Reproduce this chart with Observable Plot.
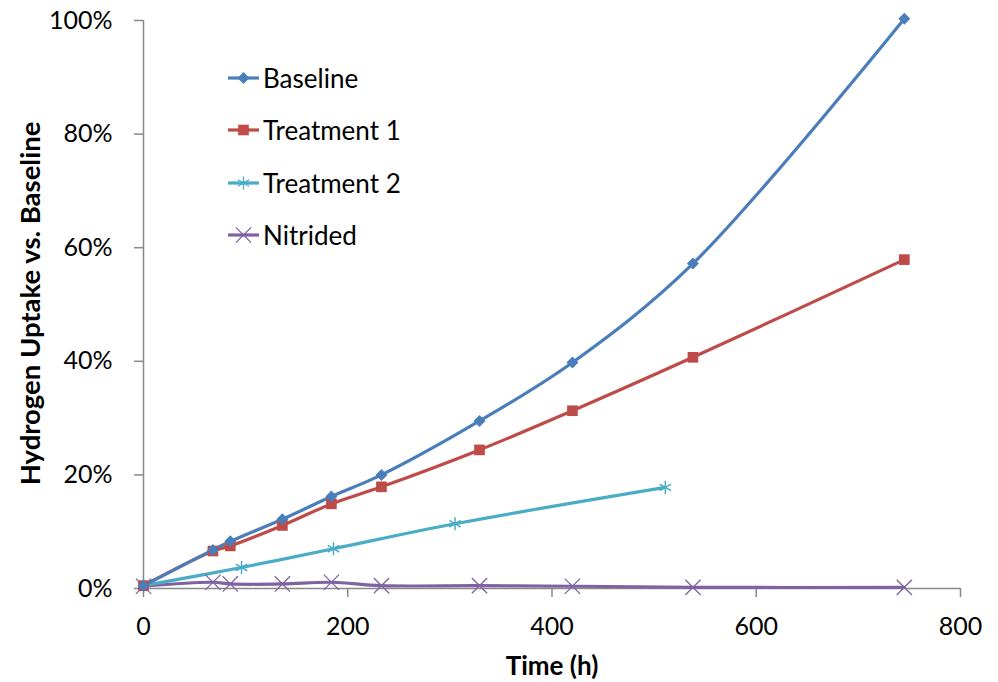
<!DOCTYPE html>
<html>
<head>
<meta charset="utf-8">
<script src="https://cdn.jsdelivr.net/npm/d3@7"></script>
<script src="https://cdn.jsdelivr.net/npm/@observablehq/plot@0.6"></script>
<style>
  html, body { margin: 0; padding: 0; background: #fff; }
  #wrap { position: relative; width: 998px; height: 682px; }
  .leg { position: absolute; display: flex; align-items: center; font-family: Lato, sans-serif; font-size: 26px; color: #000; white-space: nowrap; }
  .leg svg { display: block; margin-right: 4px; }
</style>
</head>
<body>
<div id="wrap"></div>
<script>
// ---- data ----
const seriesNames = ["Baseline", "Treatment 1", "Treatment 2", "Nitrided"];
const seriesColors = ["#4a7ebb", "#be4b48", "#4bacc6", "#7f62a1"];
const hours = [0, 68, 85, 136, 184, 233, 329, 420, 538, 745];
const baseline = [0.005, 0.068, 0.083, 0.122, 0.162, 0.200, 0.295, 0.398, 0.572, 1.003];
const treatment1 = [0.005, 0.066, 0.075, 0.111, 0.149, 0.179, 0.244, 0.313, 0.407, 0.579];
const t2Hours = [0, 96, 186, 305, 511];
const treatment2 = [0.005, 0.037, 0.070, 0.114, 0.178];
const nitrided = [0.004, 0.011, 0.008, 0.008, 0.011, 0.005, 0.005, 0.004, 0.002, 0.002];
const xTicks = [0, 200, 400, 600, 800];
const yTicks = [0, 0.2, 0.4, 0.6, 0.8, 1.0];
const xTitle = "Time (h)";
const yTitle = "Hydrogen Uptake vs. Baseline";

// ---- build rows ----
const rows = [];
hours.forEach((h, i) => rows.push({series: "Baseline", t: h, v: baseline[i]}));
hours.forEach((h, i) => rows.push({series: "Treatment 1", t: h, v: treatment1[i]}));
t2Hours.forEach((h, i) => rows.push({series: "Treatment 2", t: h, v: treatment2[i]}));
hours.forEach((h, i) => rows.push({series: "Nitrided", t: h, v: nitrided[i]}));
const of = s => rows.filter(d => d.series === s);
const col = s => seriesColors[seriesNames.indexOf(s)];

const axisGray = "#898989";
const font = "Lato, sans-serif";

const chart = Plot.plot({
  width: 998,
  height: 682,
  marginLeft: 143,
  marginRight: 38,
  marginTop: 20,
  marginBottom: 94,
  x: {domain: [0, 800]},
  y: {domain: [0, 1]},
  style: {fontFamily: font, background: "#fff", color: "#000"},
  marks: [
    Plot.axisY({ticks: yTicks, tickFormat: d3.format(".0%"), tickSize: 9, tickPadding: 22, stroke: axisGray, strokeWidth: 1.5, fontSize: 25, label: null}),
    Plot.axisX({ticks: xTicks, tickFormat: d3.format("d"), tickSize: 9, tickPadding: 20, stroke: axisGray, strokeWidth: 1.5, fontSize: 25, label: null}),
    Plot.ruleX([0], {stroke: axisGray, strokeWidth: 1.5}),
    Plot.ruleY([0], {stroke: axisGray, strokeWidth: 1.5}),
    // lines
    ...["Nitrided", "Treatment 2", "Treatment 1", "Baseline"].map(s =>
      Plot.line(of(s), {x: "t", y: "v", stroke: col(s), strokeWidth: 3.2, curve: "catmull-rom"})
    ),
    // markers
    Plot.dot(of("Nitrided"), {x: "t", y: "v", symbol: "times", r: 7, stroke: col("Nitrided"), strokeWidth: 1.3}),
    Plot.dot(of("Treatment 2"), {x: "t", y: "v", symbol: "asterisk", r: 6.2, stroke: col("Treatment 2"), strokeWidth: 1.5}),
    Plot.dot(of("Treatment 1"), {x: "t", y: "v", symbol: "square", r: 6, fill: col("Treatment 1"), stroke: "none"}),
    Plot.dot(of("Baseline"), {x: "t", y: "v", symbol: "diamond2", r: 5.4, fill: col("Baseline"), stroke: "none"}),
    // axis titles
    Plot.text([xTitle], {frameAnchor: "bottom", dy: 78, text: d => d, fontSize: 26, fontWeight: "bold", fontFamily: font, lineAnchor: "middle", textAnchor: "middle"}),
    Plot.text([yTitle], {frameAnchor: "left", dx: -112, dy: -1, rotate: -90, text: d => d, fontSize: 27.5, fontWeight: "bold", fontFamily: font, lineAnchor: "middle", textAnchor: "middle"})
  ]
});
const wrap = document.getElementById("wrap");
wrap.appendChild(chart);

// ---- legend (HTML overlay) ----
const legendSymbols = {"Baseline": d3.symbolDiamond2, "Treatment 1": d3.symbolSquare, "Treatment 2": d3.symbolAsterisk, "Nitrided": d3.symbolTimes};
const legendSize = {"Baseline": Math.PI * 5.4 * 5.4, "Treatment 1": Math.PI * 36, "Treatment 2": Math.PI * 6.2 * 6.2, "Nitrided": Math.PI * 49};
seriesNames.forEach((s, i) => {
  const row = document.createElement("div");
  row.className = "leg";
  row.style.left = "228px";
  row.style.top = (78 + i * 52.3 - 16) + "px";
  row.style.height = "32px";
  const filled = (s === "Baseline" || s === "Treatment 1");
  const path = d3.symbol(legendSymbols[s], legendSize[s])();
  row.innerHTML =
    `<svg width="31" height="32" viewBox="0 0 31 32">
       <line x1="0" x2="31" y1="16" y2="16" stroke="${col(s)}" stroke-width="3.2"/>
       <path d="${path}" transform="translate(15.5,16)" fill="${filled ? col(s) : "none"}" stroke="${filled ? "none" : col(s)}" stroke-width="1.3"/>
     </svg><span>${s}</span>`;
  wrap.appendChild(row);
});
</script>
</body>
</html>
